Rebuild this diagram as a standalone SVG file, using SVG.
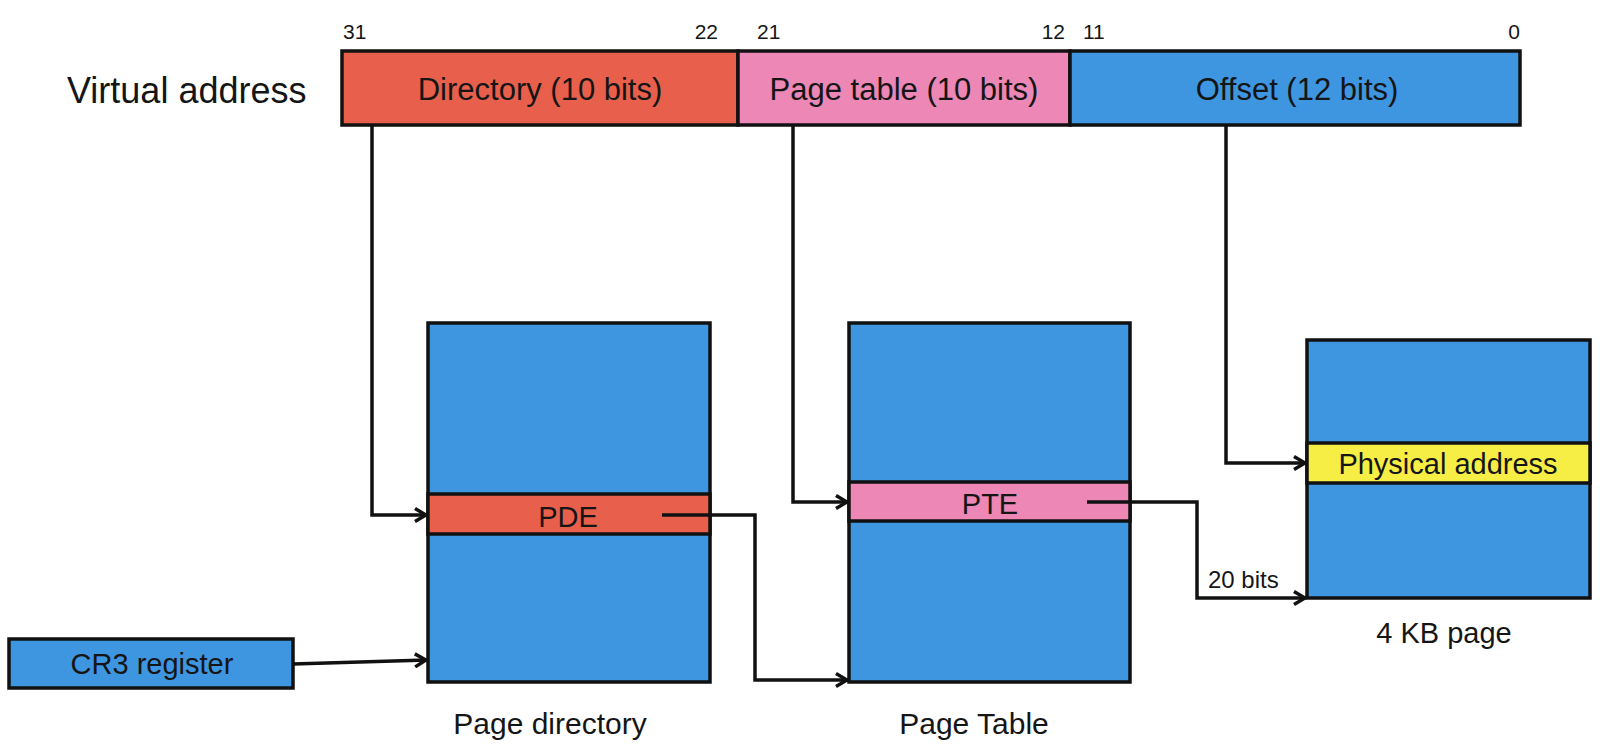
<svg xmlns="http://www.w3.org/2000/svg" width="1600" height="748" viewBox="0 0 1600 748">
<defs>
<style>
.t{font-family:"Liberation Sans","DejaVu Sans",Arial,sans-serif;fill:#151515}
.box{stroke:#111;stroke-width:3.5}
.blue{fill:#3f96e0}
.red{fill:#e8604c}
.pink{fill:#ec87b6}
.yellow{fill:#f6ee45}
.conn{fill:none;stroke:#111;stroke-width:3.5;marker-end:url(#arr)}
</style>
<marker id="arr" viewBox="0 0 16 16" refX="15" refY="8" markerWidth="16" markerHeight="16" markerUnits="userSpaceOnUse" orient="auto">
<path d="M3,1.5 L14,8 L3,14.5" fill="none" stroke="#111" stroke-width="3.5" stroke-linejoin="miter"/>
</marker>
</defs>
<rect width="1600" height="748" fill="#fff"/>

<g id="virtual-address">
<text class="t" x="67" y="103" font-size="36">Virtual address</text>
<rect class="box red" x="342" y="51" width="396" height="74"/>
<rect class="box pink" x="738" y="51" width="332" height="74"/>
<rect class="box blue" x="1070" y="51" width="450" height="74"/>
<text class="t" x="540" y="100" font-size="31" text-anchor="middle">Directory (10 bits)</text>
<text class="t" x="904" y="100" font-size="31" text-anchor="middle">Page table (10 bits)</text>
<text class="t" x="1297" y="100" font-size="31" text-anchor="middle">Offset (12 bits)</text>
<text class="t" x="343" y="39" font-size="21">31</text>
<text class="t" x="718" y="39" font-size="21" text-anchor="end">22</text>
<text class="t" x="757" y="39" font-size="21">21</text>
<text class="t" x="1065" y="39" font-size="21" text-anchor="end">12</text>
<text class="t" x="1083" y="39" font-size="21">11</text>
<text class="t" x="1520" y="39" font-size="21" text-anchor="end">0</text>
</g>

<g id="page-directory">
<rect class="box blue" x="428" y="323" width="282" height="359"/>
<rect class="box red" x="428" y="494" width="282" height="40"/>
<text class="t" x="568" y="527" font-size="29" text-anchor="middle">PDE</text>
<text class="t" x="550" y="734" font-size="30" text-anchor="middle">Page directory</text>
</g>

<g id="page-table">
<rect class="box blue" x="849" y="323" width="281" height="359"/>
<rect class="box pink" x="849" y="482" width="281" height="39"/>
<text class="t" x="990" y="514" font-size="29" text-anchor="middle">PTE</text>
<text class="t" x="974" y="734" font-size="30" text-anchor="middle">Page Table</text>
</g>

<g id="page-4kb">
<rect class="box blue" x="1307" y="340" width="283" height="258"/>
<rect class="box yellow" x="1307" y="443" width="283" height="40"/>
<text class="t" x="1448" y="474" font-size="29" text-anchor="middle">Physical address</text>
<text class="t" x="1444" y="643" font-size="29" text-anchor="middle">4 KB page</text>
</g>

<g id="cr3">
<rect class="box blue" x="9" y="639" width="284" height="49"/>
<text class="t" x="152" y="674" font-size="29" text-anchor="middle">CR3 register</text>
</g>

<g id="connectors">
<path class="conn" d="M372,125 V515 H427"/>
<path class="conn" d="M793,125 V502 H848"/>
<path class="conn" d="M1226,125 V463 H1306"/>
<path class="conn" d="M662,515 H755 V680 H848"/>
<path class="conn" d="M1087,502 H1197 V598 H1306"/>
<path class="conn" d="M293,664 L427,660"/>
<text class="t" x="1208" y="588" font-size="24">20 bits</text>
</g>
</svg>
